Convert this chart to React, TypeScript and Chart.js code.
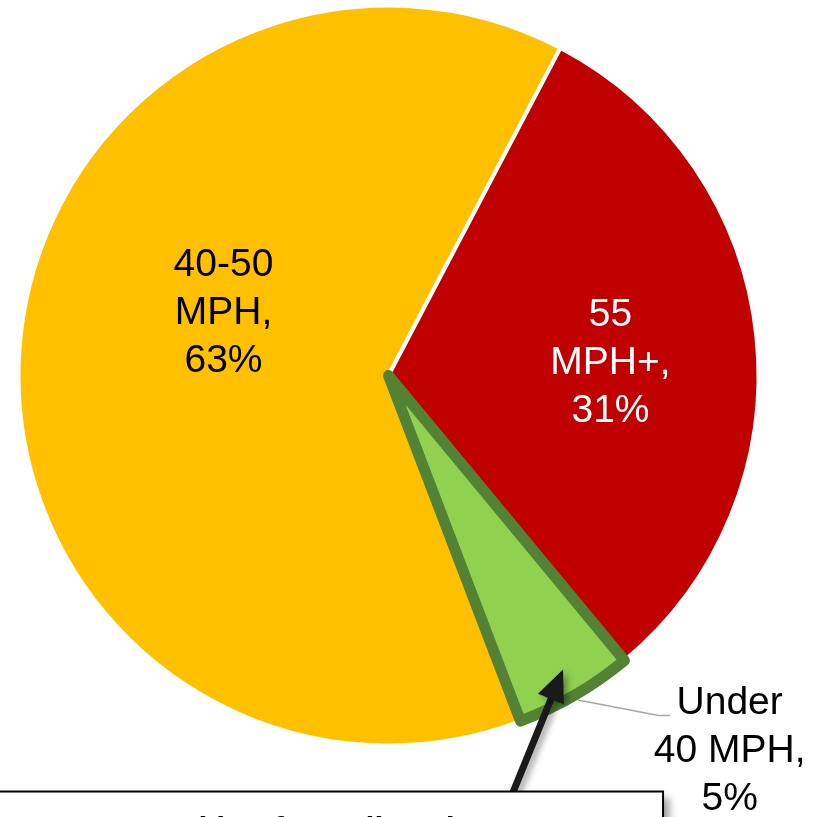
import { useEffect, useRef } from "react";
import { Chart, registerables } from "chart.js";

Chart.register(...registerables);

const categories = ["40-50 MPH", "55 MPH+", "Under 40 MPH"];
const shares = [63.5, 31.3, 5.2];
const labelLines = [
  ["40-50", "MPH,", "63%"],
  ["55", "MPH+,", "31%"],
  ["Under", "40 MPH,", "5%"],
];
const sliceColors = ["#FFC000", "#C00000", "#92D050"];
const sliceBorders = ["#FFFFFF", "#FFFFFF", "#548235"];
const sliceBorderWidths = [4, 4, 11];
const labelColors = ["#000000", "#FFFFFF", "#000000"];
const calloutText = "taking fewer lives in 16";

const FONT = "39px 'Liberation Sans', Arial, sans-serif";
const LINE_H = 48;

const overlayPlugin = {
  id: "overlay",
  afterDatasetsDraw(chart: any) {
    const ctx = chart.ctx as CanvasRenderingContext2D;
    const meta = chart.getDatasetMeta(0);
    const arcs = meta.data;
    const a0 = arcs[0];
    const cx = a0.x;
    const cy = a0.y;
    const r = a0.outerRadius;
    const anchors = [
      [-0.446, -0.176],
      [0.6, -0.042],
      [0.922, 1.008],
    ];
    ctx.save();
    ctx.font = FONT;
    ctx.textAlign = "center";
    ctx.textBaseline = "alphabetic";
    labelLines.forEach((lines, i) => {
      const ax = cx + anchors[i][0] * r;
      const ay = cy + anchors[i][1] * r;
      ctx.fillStyle = labelColors[i];
      lines.forEach((t, j) => {
        const yc = ay + (j - 1) * LINE_H;
        ctx.fillText(t, ax, yc + 14);
      });
    });

    const g = arcs[2];
    const mid = (g.startAngle + g.endAngle) / 2;
    const sx = cx + Math.cos(mid) * r;
    const sy = cy + Math.sin(mid) * r;
    const lx = cx + anchors[2][0] * r;
    const ly = cy + anchors[2][1] * r - LINE_H;
    ctx.font = FONT;
    const w = ctx.measureText(labelLines[2][0]).width;
    const ex = lx - w / 2 - 6;
    const ey = ly + 15;
    ctx.strokeStyle = "#A6A6A6";
    ctx.lineWidth = 1.5;
    ctx.beginPath();
    ctx.moveTo(sx + 3, sy + 5);
    ctx.lineTo(ex - 12, ey);
    ctx.lineTo(ex, ey);
    ctx.stroke();
    ctx.restore();
  },
  afterDraw(chart: any) {
    const ctx = chart.ctx as CanvasRenderingContext2D;
    const meta = chart.getDatasetMeta(0);
    const g = meta.data[2];
    const cx = g.x;
    const cy = g.y;
    const r = g.outerRadius;
    const mid = (g.startAngle + g.endAngle) / 2;
    const tipX = cx + Math.cos(mid) * r * 0.92 + 3;
    const tipY = cy + Math.sin(mid) * r * 0.92;
    const tailX = tipX - 55;
    const tailY = tipY + 135;
    const ang = Math.atan2(tipY - tailY, tipX - tailX);
    const headLen = 32;
    const headW = 14;

    ctx.save();
    ctx.shadowColor = "rgba(0,0,0,0.35)";
    ctx.shadowBlur = 6;
    ctx.shadowOffsetX = 4;
    ctx.shadowOffsetY = 3;
    ctx.strokeStyle = "#1a1a1a";
    ctx.fillStyle = "#1a1a1a";
    ctx.lineWidth = 7;
    const bx = tipX - Math.cos(ang) * headLen * 0.8;
    const by = tipY - Math.sin(ang) * headLen * 0.8;
    ctx.beginPath();
    ctx.moveTo(tailX, tailY);
    ctx.lineTo(bx, by);
    ctx.stroke();
    const hx = tipX - Math.cos(ang) * headLen;
    const hy = tipY - Math.sin(ang) * headLen;
    ctx.beginPath();
    ctx.moveTo(tipX, tipY);
    ctx.lineTo(hx + Math.cos(ang + Math.PI / 2) * headW, hy + Math.sin(ang + Math.PI / 2) * headW);
    ctx.lineTo(hx - Math.cos(ang + Math.PI / 2) * headW, hy - Math.sin(ang + Math.PI / 2) * headW);
    ctx.closePath();
    ctx.fill();
    ctx.restore();

    const boxTop = tipY + 122;
    const boxRight = tipX + 100;
    ctx.save();
    ctx.shadowColor = "rgba(0,0,0,0.4)";
    ctx.shadowBlur = 8;
    ctx.shadowOffsetX = 6;
    ctx.shadowOffsetY = 6;
    ctx.fillStyle = "#FFFFFF";
    ctx.fillRect(-20, boxTop, boxRight + 20, 120);
    ctx.restore();
    ctx.save();
    ctx.strokeStyle = "#000000";
    ctx.lineWidth = 2;
    ctx.strokeRect(-20, boxTop, boxRight + 20, 120);
    ctx.fillStyle = "#000000";
    ctx.font = "bold 32px 'Liberation Sans', Arial, sans-serif";
    ctx.textAlign = "left";
    ctx.textBaseline = "alphabetic";
    ctx.fillText(calloutText, 170, boxTop + 47);
    ctx.restore();
  },
};

export default function App() {
  const ref = useRef<HTMLCanvasElement | null>(null);
  useEffect(() => {
    document.body.style.margin = "0";
    if (!ref.current) return;
    const chart = new Chart(ref.current, {
      type: "pie",
      data: {
        labels: categories,
        datasets: [
          {
            data: shares,
            backgroundColor: sliceColors,
            borderColor: sliceBorders,
            borderWidth: sliceBorderWidths,
            borderJoinStyle: "round",
            hoverOffset: 0,
          } as any,
        ],
      },
      options: {
        responsive: false,
        animation: false,
        rotation: 159.1,
        layout: { padding: { left: 12, right: 56, top: 0, bottom: 66 } },
        plugins: {
          legend: { display: false },
          tooltip: { enabled: false },
        },
        events: [],
      },
      plugins: [overlayPlugin],
    });
    return () => chart.destroy();
  }, []);
  return (
    <div style={{ width: 821, height: 817, overflow: "hidden", background: "#fff" }}>
      <canvas ref={ref} width={821} height={817} />
    </div>
  );
}
